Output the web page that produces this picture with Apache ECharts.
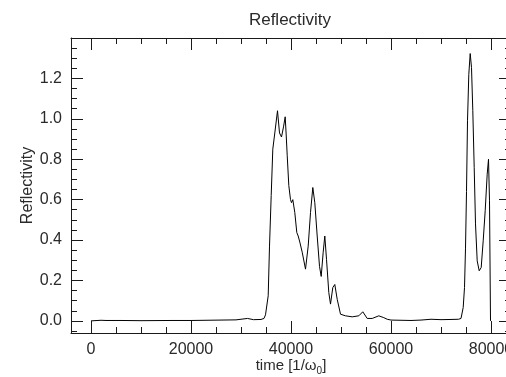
<!DOCTYPE html>
<html>
<head>
<meta charset="utf-8">
<script src="https://cdn.jsdelivr.net/npm/echarts@6/dist/echarts.min.js"></script>
<style>
html,body{margin:0;padding:0;background:#fff;overflow:hidden;}
#c{width:506px;height:377px;}
</style>
</head>
<body>
<div id="c"></div>
<script>
// ---- data ----
var timeVals = [0, 2000, 3000, 6000, 10000, 16000, 20000, 23000, 26000, 29000, 31300, 32500, 34000, 34600,
  34900, 35440, 35700, 36040, 36360, 36760, 37300, 37700, 38100, 38500, 38840, 39040, 39240, 39560, 39900,
  40100, 40360, 40760, 41160, 41440, 41760, 42240, 42900, 43440, 43900, 44360, 44760, 45240, 45700, 46040,
  46440, 46760, 47100, 47560, 47900, 48360, 48760, 49240, 49900, 50900, 52240, 53560, 54360, 54660, 55240,
  56240, 57560, 57900, 58560, 59240, 60000, 62000, 64000, 66000, 68000, 70000, 72000, 73500, 74000,
  74240, 74440, 74700, 74900, 75100, 75300, 75560, 75840, 76100, 76360, 76640, 76900, 77240, 77640, 78040,
  78440, 78840, 79240, 79500, 79700, 79900, 80000];
var reflVals = [0.0, 0.003, 0.002, 0.002, 0.001, 0.002, 0.002, 0.003, 0.004, 0.005, 0.012, 0.006, 0.007, 0.012,
  0.03, 0.124, 0.37, 0.62, 0.85, 0.93, 1.04, 0.93, 0.91, 0.96, 1.01, 0.92, 0.82, 0.67, 0.60,
  0.585, 0.60, 0.536, 0.437, 0.42, 0.39, 0.34, 0.256, 0.37, 0.536, 0.66, 0.585, 0.42, 0.27, 0.22,
  0.34, 0.42, 0.305, 0.14, 0.083, 0.165, 0.18, 0.107, 0.033, 0.025, 0.02, 0.025, 0.045, 0.052, 0.012,
  0.012, 0.025, 0.028, 0.016, 0.008, 0.004, 0.003, 0.002, 0.004, 0.008, 0.006, 0.007, 0.008, 0.012,
  0.015, 0.066, 0.165, 0.36, 0.64, 0.99, 1.22, 1.323, 1.254, 1.04, 0.76, 0.48, 0.297, 0.248, 0.264,
  0.396, 0.545, 0.726, 0.80, 0.594, 0.0, 0.0];
var xMajorTicks = [0, 20000, 40000, 60000, 80000];
var xMinorTicks = [5000, 10000, 15000, 25000, 30000, 35000, 45000, 50000, 55000, 65000, 70000, 75000];
var yMajorTicks = [0.0, 0.2, 0.4, 0.6, 0.8, 1.0, 1.2];
var yMinorTicks = [-0.05, 0.05, 0.1, 0.15, 0.25, 0.3, 0.35, 0.45, 0.5, 0.55, 0.65, 0.7, 0.75, 0.85, 0.9, 0.95,
  1.05, 1.1, 1.15, 1.25, 1.3, 1.35];
var titleText = 'Reflectivity';
var yTitle = 'Reflectivity';

// ---- chart ----
var FONT = 'Liberation Sans, Arial, Helvetica, sans-serif';
var AX = '#1a1a1a';
var TXT = '#2a2a2a';
var XMIN = -4000, XMAX = 84000, YMIN = -0.06, YMAX = 1.4;

function xAx(pos, ticks, len, labels, line, name) {
  var a = {
    type: 'value', position: pos, min: XMIN, max: XMAX, gridIndex: 0,
    splitLine: {show: false},
    axisLine: {show: line, onZero: false, lineStyle: {color: AX, width: 1}},
    axisTick: {show: true, inside: true, length: len, customValues: ticks, lineStyle: {color: AX, width: 1}},
    axisLabel: labels ? {show: true, customValues: ticks, margin: 9, color: TXT, fontFamily: FONT, fontSize: 16,
      hideOverlap: false, formatter: function (v) { return String(v); }} : {show: false}
  };
  if (name) {
    a.name = '{m|time [1/ω}{s|0}{m|]}';
    a.nameLocation = 'middle';
    a.nameGap = 24;
    a.nameMoveOverlap = false;
    a.nameTextStyle = {rich: {
      m: {fontFamily: FONT, fontSize: 15, color: TXT, lineHeight: 18},
      s: {fontFamily: FONT, fontSize: 10, color: TXT, lineHeight: 10, padding: [10, 0, 0, 0]}
    }};
  }
  return a;
}
function yAx(pos, ticks, len, labels, line, name) {
  var a = {
    type: 'value', position: pos, min: YMIN, max: YMAX, gridIndex: 0,
    splitLine: {show: false},
    axisLine: {show: line, onZero: false, lineStyle: {color: AX, width: 1}},
    axisTick: {show: true, inside: true, length: len, customValues: ticks, lineStyle: {color: AX, width: 1}},
    axisLabel: labels ? {show: true, customValues: ticks, margin: 9, color: TXT, fontFamily: FONT, fontSize: 16,
      hideOverlap: false, formatter: function (v) { return v.toFixed(1); }} : {show: false}
  };
  if (name) {
    a.name = name;
    a.nameLocation = 'middle';
    a.nameGap = 35;
    a.nameMoveOverlap = false;
    a.nameTextStyle = {fontFamily: FONT, fontSize: 16, color: TXT};
  }
  return a;
}

var chart = echarts.init(document.getElementById('c'), null, {renderer: 'canvas'});
var data = timeVals.map(function (t, i) { return [t, reflVals[i]]; });
chart.setOption({
  animation: false,
  backgroundColor: '#fff',
  grid: {left: 71, top: 38, width: 440, height: 295, containLabel: false, outerBoundsMode: 'none'},
  xAxis: [
    xAx('bottom', xMajorTicks, 12, true, true, true),
    xAx('bottom', xMinorTicks, 6, false, false, false),
    xAx('top', xMajorTicks, 12, false, true, false),
    xAx('top', xMinorTicks, 6, false, false, false)
  ],
  yAxis: [
    yAx('left', yMajorTicks, 12, true, true, yTitle),
    yAx('left', yMinorTicks, 6, false, false, null),
    yAx('right', yMajorTicks, 12, false, true, null),
    yAx('right', yMinorTicks, 6, false, false, null)
  ],
  graphic: [{
    type: 'text', x: 290, y: 20,
    style: {text: titleText, textAlign: 'center', textVerticalAlign: 'middle',
      fontFamily: FONT, fontSize: 17, fill: TXT}
  }],
  series: [{
    type: 'line', xAxisIndex: 0, yAxisIndex: 0, data: data,
    showSymbol: false, symbol: 'none', smooth: false,
    lineStyle: {color: '#000', width: 1}
  }]
});
</script>
</body>
</html>
